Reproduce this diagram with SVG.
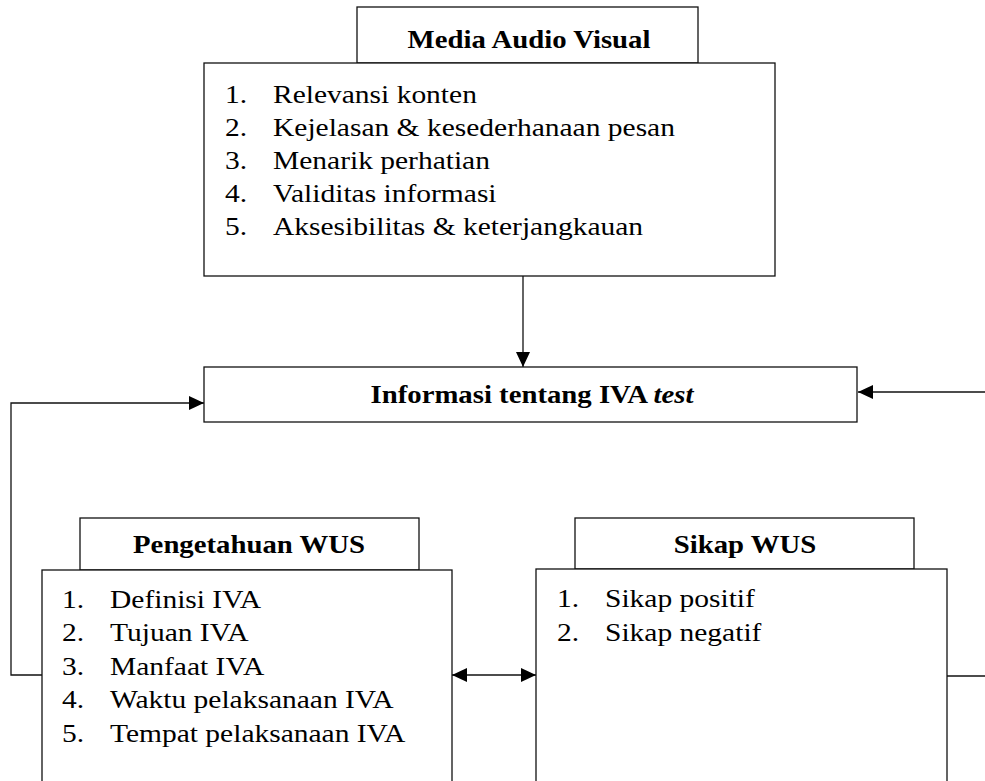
<svg xmlns="http://www.w3.org/2000/svg" width="985" height="781" viewBox="0 0 985 781">
<style>
.box{fill:#fff;stroke:#111;stroke-width:1.3}
.ln{fill:none;stroke:#111;stroke-width:1.3}
text{font-family:"Liberation Serif","Times New Roman",serif;font-size:25px;fill:#000}
.b{font-weight:bold}
.c{text-anchor:middle}
</style>
<defs>
<marker id="ah" markerUnits="userSpaceOnUse" markerWidth="16" markerHeight="14" refX="15" refY="7" orient="auto-start-reverse">
<path d="M0,0 L15,7 L0,14 Z" fill="#000"/>
</marker>
</defs>
<g id="connectors">
<line class="ln" x1="523" y1="276" x2="523" y2="367" marker-end="url(#ah)"/>
<line class="ln" x1="985" y1="392" x2="858" y2="392" marker-end="url(#ah)"/>
<polyline class="ln" points="42,675 11,675 11,403 204,403" marker-end="url(#ah)"/>
<line class="ln" x1="452" y1="675" x2="536" y2="675" marker-start="url(#ah)" marker-end="url(#ah)"/>
<line class="ln" x1="947" y1="676" x2="985" y2="676"/>
</g>
<g id="media-header">
<rect class="box" x="357" y="7" width="341" height="56"/>
<text class="b c" transform="translate(529 48) scale(1.15 1)">Media Audio Visual</text>
</g>
<g id="media-list">
<rect class="box" x="204" y="63" width="571" height="213"/>
<text transform="translate(225 103) scale(1.18 1)">1.</text>
<text transform="translate(273 103) scale(1.18 1)">Relevansi konten</text>
<text transform="translate(225 136) scale(1.18 1)">2.</text>
<text transform="translate(273 136) scale(1.18 1)">Kejelasan &amp; kesederhanaan pesan</text>
<text transform="translate(225 169) scale(1.18 1)">3.</text>
<text transform="translate(273 169) scale(1.18 1)">Menarik perhatian</text>
<text transform="translate(225 202) scale(1.18 1)">4.</text>
<text transform="translate(273 202) scale(1.18 1)">Validitas informasi</text>
<text transform="translate(225 235) scale(1.18 1)">5.</text>
<text transform="translate(273 235) scale(1.18 1)">Aksesibilitas &amp; keterjangkauan</text>
</g>
<g id="informasi">
<rect class="box" x="204" y="367" width="653" height="55"/>
<text class="b c" transform="translate(532 403) scale(1.15 1)">Informasi tentang IVA <tspan font-style="italic">test</tspan></text>
</g>
<g id="pengetahuan-header">
<rect class="box" x="80" y="518" width="339" height="52"/>
<text class="b c" transform="translate(249 553) scale(1.15 1)">Pengetahuan WUS</text>
</g>
<g id="pengetahuan-list">
<rect class="box" x="42" y="570" width="410" height="230"/>
<text transform="translate(62 608) scale(1.18 1)">1.</text>
<text transform="translate(110 608) scale(1.18 1)">Definisi IVA</text>
<text transform="translate(62 641) scale(1.18 1)">2.</text>
<text transform="translate(110 641) scale(1.18 1)">Tujuan IVA</text>
<text transform="translate(62 675) scale(1.18 1)">3.</text>
<text transform="translate(110 675) scale(1.18 1)">Manfaat IVA</text>
<text transform="translate(62 708) scale(1.18 1)">4.</text>
<text transform="translate(110 708) scale(1.18 1)">Waktu pelaksanaan IVA</text>
<text transform="translate(62 742) scale(1.18 1)">5.</text>
<text transform="translate(110 742) scale(1.18 1)">Tempat pelaksanaan IVA</text>
</g>
<g id="sikap-header">
<rect class="box" x="575" y="518" width="339" height="51"/>
<text class="b c" transform="translate(745 553) scale(1.15 1)">Sikap WUS</text>
</g>
<g id="sikap-list">
<rect class="box" x="536" y="569" width="411" height="230"/>
<text transform="translate(557 607) scale(1.18 1)">1.</text>
<text transform="translate(605 607) scale(1.18 1)">Sikap positif</text>
<text transform="translate(557 641) scale(1.18 1)">2.</text>
<text transform="translate(605 641) scale(1.18 1)">Sikap negatif</text>
</g>
</svg>
